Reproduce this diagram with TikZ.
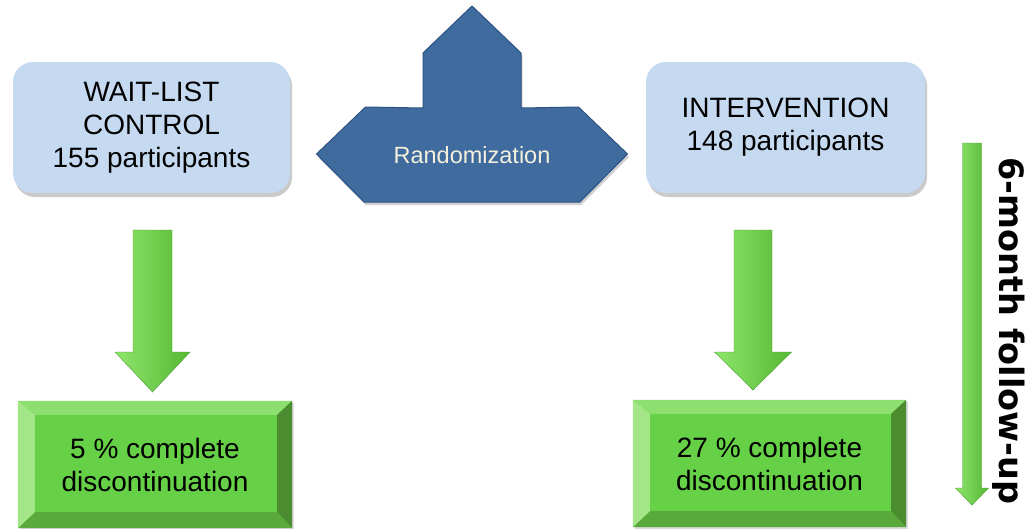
\documentclass[tikz,border=0pt]{standalone}
\usepackage{fontspec}
\setmainfont{Liberation Sans}
\newfontfamily\sidefont{DejaVu Sans}
\usetikzlibrary{shadows,calc}
\definecolor{boxblue}{HTML}{C5DAF1}
\definecolor{randfill}{HTML}{3F6B9F}
\definecolor{randline}{HTML}{2E5383}
\definecolor{randtext}{HTML}{F4F0DC}
\definecolor{gcenter}{HTML}{66D147}
\definecolor{gtop}{HTML}{8DE070}
\definecolor{gleft}{HTML}{A2E688}
\definecolor{gright}{HTML}{4A8C2F}
\definecolor{gbottom}{HTML}{5AAA3B}
\definecolor{alight}{HTML}{8EE56C}
\definecolor{adark}{HTML}{56B834}
\tikzset{
  bluebox/.style={rounded corners=20pt, fill=boxblue, minimum height=131pt,
    align=center, inner sep=0pt, font=\fontsize{28}{33}\selectfont,
    drop shadow={shadow xshift=2pt, shadow yshift=-4pt, opacity=0.35, fill=black!60}},
  greenbox/.style={fill=gcenter, minimum height=127pt, align=center, inner sep=0pt,
    font=\fontsize{28}{33}\selectfont,
    drop shadow={shadow xshift=1.5pt, shadow yshift=-2pt, opacity=0.25, fill=black!60}},
  arrowfill/.style={left color=alight, right color=adark, draw=adark!85!black, line width=0.4pt},
  randshape/.style={fill=randfill, draw=randline, line width=1pt,
    drop shadow={shadow xshift=1.5pt, shadow yshift=-3pt, opacity=0.3, fill=black!60}},
}
\newcommand\bevel[1]{%
  \path ($(#1.north west)+(17,14)$) coordinate (#1-inw)
        ($(#1.north east)+(-15,14)$) coordinate (#1-ine)
        ($(#1.south east)+(-15,-16)$) coordinate (#1-ise)
        ($(#1.south west)+(17,-16)$) coordinate (#1-isw);
  \fill[gtop] (#1.north west) -- (#1.north east) -- (#1-ine) -- (#1-inw) -- cycle;
  \fill[gright] (#1.north east) -- (#1.south east) -- (#1-ise) -- (#1-ine) -- cycle;
  \fill[gbottom] (#1.south east) -- (#1.south west) -- (#1-isw) -- (#1-ise) -- cycle;
  \fill[gleft] (#1.south west) -- (#1.north west) -- (#1-inw) -- (#1-isw) -- cycle;
}
\newcommand\blockarrow[5]{%
  \path[arrowfill] let \p1=(#1), \p2=(#2) in
    (\x1-#3pt,\y1) -- (\x1+#3pt,\y1) -- (\x1+#3pt,\y2+#5pt) -- (\x1+#4pt,\y2+#5pt)
    -- (\x1,\y2) -- (\x1-#4pt,\y2+#5pt) -- (\x1-#3pt,\y2+#5pt) -- cycle;
}
\begin{document}
\begin{tikzpicture}[x=1pt,y=-1pt]
\useasboundingbox (0,0) rectangle (1035,528);
% randomization shape
\path[randshape] (472,6) -- (521,53) -- (521,108) -- (578.5,107) -- (627.5,154)
  -- (580,202) -- (364,202) -- (316.5,154) -- (365.5,107) -- (423,108) -- (423,53) -- cycle;
\node[text=randtext, font=\fontsize{23.5}{28}\selectfont] (rand) at (472,155) {Randomization};
% blue boxes
\node[bluebox, minimum width=277pt] (wl) at (151.5,127.5) {WAIT-LIST\\CONTROL\\155 participants};
\node[bluebox, minimum width=279pt] (iv) at (785.5,127.5) {INTERVENTION\\148 participants};
% green boxes
\node[greenbox, minimum width=274pt] (gl) at (155,464.5) {};
\bevel{gl}
\node[font=\fontsize{28}{33}\selectfont, align=center] (glt) at (gl.center) {5 \% complete\\discontinuation};
\node[greenbox, minimum width=273pt] (gr) at (769.5,463.5) {};
\bevel{gr}
\node[font=\fontsize{28}{33}\selectfont, align=center] (grt) at (gr.center) {27 \% complete\\discontinuation};
% arrows
\coordinate (al-top) at (152.5,230);
\coordinate (al-tip) at (152.5,392);
\coordinate (ar-top) at (753,230);
\coordinate (ar-tip) at (753,390);
\coordinate (av-top) at (972,143);
\coordinate (av-tip) at (972,505);
\blockarrow{al-top}{al-tip}{19.5}{37.5}{40}
\blockarrow{ar-top}{ar-tip}{19}{38.5}{38}
\blockarrow{av-top}{av-tip}{9.5}{16.5}{17}
\node[rotate=-90, font=\sidefont\bfseries\fontsize{33.5}{36}\selectfont] (fu) at (1009,331) {6-month follow-up};
\end{tikzpicture}
\end{document}
